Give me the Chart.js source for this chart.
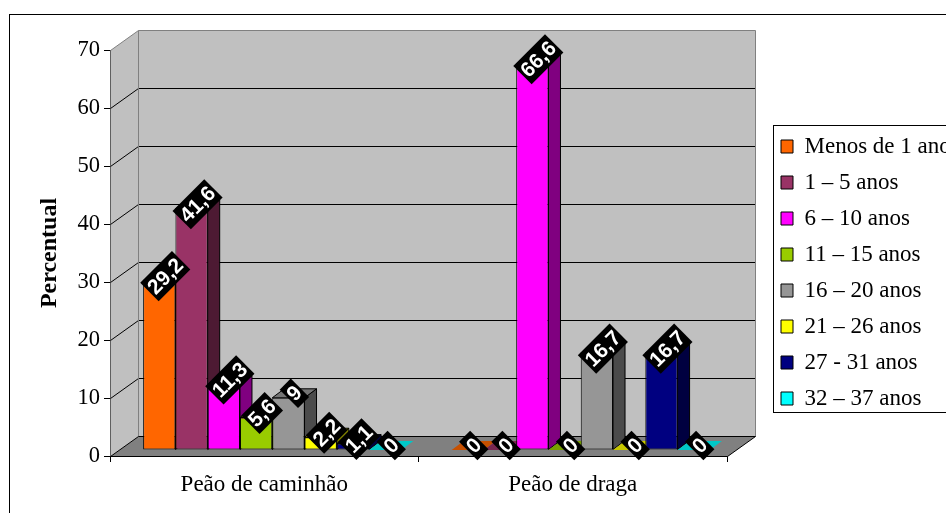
<!DOCTYPE html>
<html>
<head>
<meta charset="utf-8">
<title>Percentual por tempo de trabalho</title>
<style>
  html, body { margin: 0; padding: 0; background: #fff; overflow: hidden; }
  canvas { display: block; }
</style>
<script src="https://cdn.jsdelivr.net/npm/chart.js@4/dist/chart.umd.min.js"></script>
</head>
<body>
<canvas id="grafico" width="946" height="513"></canvas>
<script>
const categorias = ['Peão de caminhão', 'Peão de draga'];
const faixas = ['Menos de 1 anos', '1 – 5 anos', '6 – 10 anos', '11 – 15 anos', '16 – 20 anos', '21 – 26 anos', '27 - 31 anos', '32 – 37 anos'];

const menosDe1 = [29.2, 0];
const de1a5 = [41.6, 0];
const de6a10 = [11.3, 66.6];
const de11a15 = [5.6, 0];
const de16a20 = [9, 16.7];
const de21a26 = [2.2, 0];
const de27a31 = [1.1, 16.7];
const de32a37 = [0, 0];

const series = [menosDe1, de1a5, de6a10, de11a15, de16a20, de21a26, de27a31, de32a37];
const cores = ['#ff6600', '#993366', '#ff00ff', '#99cc00', '#969696', '#ffff00', '#000080', '#00ffff'];

// fake 3D: wall depth, how far bars sit inside the box, and bar depth
const FUNDO_X = 28, FUNDO_Y = -20;
const BARRA_X = 8, BARRA_Y = -6;
const LADO_X = 12, LADO_Y = -9;

function escurecer(hex, f) {
    const n = parseInt(hex.slice(1), 16);
    const r = Math.round((n >> 16 & 255) * f);
    const g = Math.round((n >> 8 & 255) * f);
    const b = Math.round((n & 255) * f);
    return `rgb(${r},${g},${b})`;
}

function poligono(ctx, pts, fill, stroke) {
    ctx.beginPath();
    pts.forEach((p, i) => i ? ctx.lineTo(p[0], p[1]) : ctx.moveTo(p[0], p[1]));
    ctx.closePath();
    if (fill) { ctx.fillStyle = fill; ctx.fill(); }
    if (stroke) { ctx.strokeStyle = stroke; ctx.lineWidth = 1; ctx.stroke(); }
}

function linha(ctx, x0, y0, x1, y1, cor) {
    ctx.beginPath();
    ctx.moveTo(x0, y0);
    ctx.lineTo(x1, y1);
    ctx.strokeStyle = cor;
    ctx.lineWidth = 1;
    ctx.stroke();
}

const caixa3d = {
    id: 'caixa3d',
    // moves the legend to the side of the plot and lets it run off the canvas
    afterLayout(chart) {
        const leg = chart.legend;
        leg.left = 768;
        leg.right = 1000;
        leg.top = 122;
        leg.bottom = 430;
    },
    beforeDraw(chart) {
        const ctx = chart.ctx;
        ctx.save();
        // outer chart frame
        ctx.strokeStyle = '#000';
        ctx.lineWidth = 1;
        ctx.strokeRect(9.5, 14.5, 1000, 1000);
        // legend frame
        ctx.strokeRect(773.5, 125.5, 300, 287);
        ctx.restore();
    },
    beforeDatasetsDraw(chart) {
        const ctx = chart.ctx;
        const a = chart.chartArea;
        const y = chart.scales.y;
        const l = Math.round(a.left) + 0.5, r = Math.round(a.right) + 0.5;
        const y0 = Math.round(y.getPixelForValue(0)) + 0.5;
        const yMax = Math.round(y.getPixelForValue(70)) + 0.5;

        ctx.save();
        // walls
        poligono(ctx, [[l, yMax], [l + FUNDO_X, yMax + FUNDO_Y], [l + FUNDO_X, y0 + FUNDO_Y], [l, y0]], '#c0c0c0');
        poligono(ctx, [[l + FUNDO_X, yMax + FUNDO_Y], [r + FUNDO_X, yMax + FUNDO_Y], [r + FUNDO_X, y0 + FUNDO_Y], [l + FUNDO_X, y0 + FUNDO_Y]], '#c0c0c0');
        // grid lines on both walls
        y.ticks.forEach(t => {
            if (t.value === 0 || t.value === 70) return;
            const py = Math.round(y.getPixelForValue(t.value)) + 0.5;
            linha(ctx, l, py, l + FUNDO_X, py + FUNDO_Y, '#000');
            linha(ctx, l + FUNDO_X, py + FUNDO_Y, r + FUNDO_X, py + FUNDO_Y, '#000');
        });
        // wall outline
        linha(ctx, l, yMax, l + FUNDO_X, yMax + FUNDO_Y, '#808080');
        linha(ctx, l + FUNDO_X, yMax + FUNDO_Y, r + FUNDO_X, yMax + FUNDO_Y, '#808080');
        linha(ctx, r + FUNDO_X, yMax + FUNDO_Y, r + FUNDO_X, y0 + FUNDO_Y, '#808080');
        linha(ctx, l + FUNDO_X, yMax + FUNDO_Y, l + FUNDO_X, y0 + FUNDO_Y, '#808080');
        // floor
        poligono(ctx, [[l, y0], [l + FUNDO_X, y0 + FUNDO_Y], [r + FUNDO_X, y0 + FUNDO_Y], [r, y0]], '#808080', '#000');
        ctx.restore();

        // bars are shifted into the box; the hook below undoes it
        ctx.save();
        ctx.translate(BARRA_X, BARRA_Y);

        // side and top faces go first, the native bar fronts cover them
        chart.data.datasets.forEach((ds, i) => {
            const meta = chart.getDatasetMeta(i);
            meta.data.forEach((bar, j) => {
                const p = bar.getProps(['x', 'y', 'base', 'width'], true);
                const xl = p.x - p.width / 2, xr = p.x + p.width / 2;
                const zero = ds.data[j] === 0;
                if (!zero) {
                    poligono(ctx, [[xr, p.y], [xr + LADO_X, p.y + LADO_Y], [xr + LADO_X, p.base + LADO_Y], [xr, p.base]], escurecer(cores[i], 0.5), '#000');
                }
                poligono(ctx, [[xl, p.y], [xl + LADO_X, p.y + LADO_Y], [xr + LADO_X, p.y + LADO_Y], [xr, p.y]], escurecer(cores[i], 0.78), zero ? null : '#000');
            });
        });
    },
    afterDatasetsDraw(chart) {
        const ctx = chart.ctx;
        ctx.restore();

        // value labels, black plate with white text at 45 degrees
        ctx.save();
        ctx.font = 'bold 21px "Liberation Sans"';
        ctx.textAlign = 'center';
        ctx.textBaseline = 'middle';
        chart.data.datasets.forEach((ds, i) => {
            chart.getDatasetMeta(i).data.forEach((bar, j) => {
                const p = bar.getProps(['x', 'y'], true);
                const txt = String(ds.data[j]).replace('.', ',');
                const w = ctx.measureText(txt).width + 4;
                ctx.save();
                ctx.translate(p.x + BARRA_X + LADO_X / 2, p.y + BARRA_Y + LADO_Y / 2);
                ctx.rotate(-Math.PI / 4);
                ctx.fillStyle = '#000';
                ctx.fillRect(-w / 2, -13, w, 26);
                ctx.fillStyle = '#fff';
                ctx.fillText(txt, 0, 1);
                ctx.restore();
            });
        });
        ctx.restore();
    }
};

new Chart(document.getElementById('grafico'), {
    type: 'bar',
    data: {
        labels: categorias,
        datasets: series.map((valores, i) => ({
            label: faixas[i],
            data: valores,
            backgroundColor: cores[i],
            borderColor: '#000',
            borderWidth: 1,
            borderSkipped: false,
            clip: false,
            barPercentage: 1,
            categoryPercentage: 0.837
        }))
    },
    options: {
        responsive: false,
        animation: false,
        events: [],
        layout: { padding: { left: 20, top: 50, right: 19, bottom: 0 } },
        plugins: {
            tooltip: { enabled: false },
            legend: {
                position: 'right',
                align: 'start',
                maxWidth: 200,
                labels: {
                    color: '#000',
                    boxWidth: 12,
                    boxHeight: 13,
                    padding: 13,
                    font: { family: '"Liberation Serif"', size: 23 }
                }
            }
        },
        scales: {
            x: {
                grid: { offset: true, drawOnChartArea: false, tickLength: 6, tickColor: '#000' },
                border: { color: '#000' },
                ticks: { color: '#000', padding: 9, maxRotation: 0, font: { family: '"Liberation Serif"', size: 23 } },
                afterFit(s) { s.height = 57; }
            },
            y: {
                min: 0,
                max: 70,
                ticks: { stepSize: 10, color: '#000', padding: 4, font: { family: '"Liberation Serif"', size: 22.5 } },
                grid: { drawOnChartArea: false, tickLength: 6, tickColor: '#000' },
                border: { color: '#000' },
                title: {
                    display: true,
                    text: 'Percentual',
                    color: '#000',
                    padding: { top: 15, bottom: 0 },
                    font: { family: '"Liberation Serif"', size: 24, weight: 'bold' }
                },
                afterFit(s) { s.width = 90; }
            }
        }
    },
    plugins: [caixa3d]
});
</script>
</body>
</html>
